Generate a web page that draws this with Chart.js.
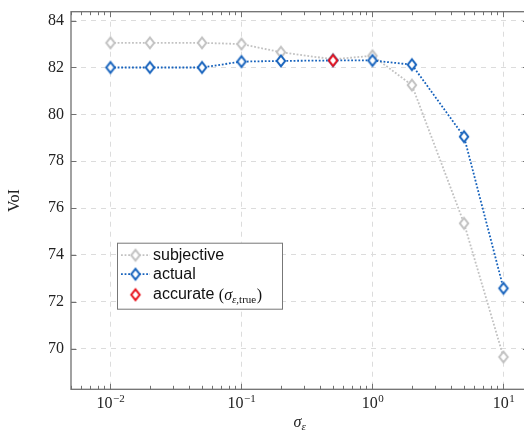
<!DOCTYPE html>
<html>
<head>
<meta charset="utf-8">
<script src="https://cdn.jsdelivr.net/npm/chart.js@4.4.1/dist/chart.umd.min.js"></script>
<style>
  html, body { margin: 0; padding: 0; background: #fff; overflow: hidden; width: 524px; height: 434px; }
  #wrap { position: relative; width: 540px; height: 434px; }
</style>
</head>
<body>
<div id="wrap"><canvas id="chart" width="540" height="434"></canvas></div>
<script>
// sigma_eps values (x axis, log scale)
const sigma = [0.01, 0.02, 0.05, 0.1, 0.2, 0.5, 1, 2, 5, 10];
const subjective = [83.05, 83.05, 83.05, 83.0, 82.65, 82.35, 82.5, 81.25, 75.35, 69.65];
const actual = [82.0, 82.0, 82.0, 82.25, 82.28, 82.3, 82.3, 82.12, 79.05, 72.58];
const accurateSigma = [0.5];
const accurate = [82.3];

const xTicks = [0.01, 0.1, 1, 10];
const xTickExp = ['\u22122', '\u22121', '0', '1'];
const yTicks = [70, 72, 74, 76, 78, 80, 82, 84];

const GRAY = '#c2c2c2';
const BLUE = '#1763bd';
const RED = '#e8101a';
const SERIF = '"Liberation Serif", "DejaVu Serif", serif';
const SANS = '"Liberation Sans", Arial, sans-serif';

function diamond(color) {
  const c = document.createElement('canvas');
  c.width = 14; c.height = 16;
  const g = c.getContext('2d');
  g.beginPath();
  g.moveTo(7, 2.7); g.lineTo(11.2, 8); g.lineTo(7, 13.3); g.lineTo(2.8, 8);
  g.closePath();
  g.fillStyle = '#fff';
  g.fill();
  g.lineWidth = 2;
  g.strokeStyle = color;
  g.stroke();
  return c;
}
const dGray = diamond(GRAY), dBlue = diamond(BLUE), dRed = diamond(RED);

function pts(xs, ys) {
  return xs.map((x, i) => ({ x: x, y: ys[i] }));
}

// frame, minor ticks, x labels, titles and legend
const deco = {
  id: 'deco',
  afterDraw(chart) {
    const { ctx, chartArea: a, scales: { x, y } } = chart;
    ctx.save();
    const line = (x1, y1, x2, y2) => { ctx.beginPath(); ctx.moveTo(x1, y1); ctx.lineTo(x2, y2); ctx.stroke(); };

    ctx.strokeStyle = '#707070';
    ctx.lineWidth = 1;
    for (let e = -3; e <= 1; e++) {
      for (let m = 1; m <= 9; m++) {
        const v = m * Math.pow(10, e);
        if (v < x.min || v > x.max) continue;
        const px = Math.round(x.getPixelForValue(v)) + 0.5;
        const len = m === 1 ? 5.5 : 3.5;
        line(px, a.bottom, px, a.bottom - len);
        line(px, a.top, px, a.top + len);
      }
    }
    yTicks.forEach(v => {
      const py = Math.round(y.getPixelForValue(v)) + 0.5;
      line(a.left, py, a.left + 5.5, py);
      line(a.right, py, a.right - 5.5, py);
    });

    ctx.strokeStyle = '#707070';
    ctx.lineWidth = 1.3;
    ctx.strokeRect(a.left, a.top, a.right - a.left, a.bottom - a.top);

    // x tick labels 10^k
    ctx.fillStyle = '#222';
    ctx.textBaseline = 'alphabetic';
    ctx.textAlign = 'left';
    xTicks.forEach((v, i) => {
      const px = x.getPixelForValue(v);
      ctx.font = '16px ' + SERIF;
      const w1 = ctx.measureText('10').width;
      ctx.font = '11px ' + SERIF;
      const w2 = ctx.measureText(xTickExp[i]).width;
      const x0 = px - (w1 + w2) / 2;
      ctx.font = '16px ' + SERIF;
      ctx.fillText('10', x0, a.bottom + 19);
      ctx.font = '11px ' + SERIF;
      ctx.fillText(xTickExp[i], x0 + w1 + 0.5, a.bottom + 12.5);
    });

    // x title sigma_eps
    const cx = (a.left + a.right) / 2;
    ctx.font = 'italic 16px ' + SERIF;
    const ws = ctx.measureText('\u03c3').width;
    ctx.font = 'italic 11px ' + SERIF;
    const we = ctx.measureText('\u03b5').width;
    let tx = cx - (ws + we) / 2;
    ctx.font = 'italic 16px ' + SERIF;
    ctx.fillText('\u03c3', tx, 427);
    ctx.font = 'italic 11px ' + SERIF;
    ctx.fillText('\u03b5', tx + ws, 430);

    // y title
    ctx.save();
    ctx.translate(19, (a.top + a.bottom) / 2);
    ctx.rotate(-Math.PI / 2);
    ctx.textAlign = 'center';
    ctx.font = '16px ' + SERIF;
    ctx.fillText('VoI', 0, 0);
    ctx.restore();

    // legend box
    const lx = a.left + 46, ly = a.top + 231, lw = 165, lh = 66;
    ctx.fillStyle = '#fff';
    ctx.fillRect(lx, ly, lw, lh);
    ctx.strokeStyle = '#777';
    ctx.lineWidth = 1;
    ctx.strokeRect(lx + 0.5, ly + 0.5, lw, lh);

    const rows = [
      { y: ly + 12.5, color: GRAY, img: dGray, dotted: true, label: 'subjective' },
      { y: ly + 31.5, color: BLUE, img: dBlue, dotted: true, label: 'actual' },
      { y: ly + 52, color: RED, img: dRed, dotted: false, label: 'accurate' }
    ];
    rows.forEach(r => {
      if (r.dotted) {
        ctx.strokeStyle = r.color;
        ctx.lineWidth = 1.8;
        ctx.setLineDash([1.8, 1.8]);
        line(lx + 4, r.y, lx + 33, r.y);
        ctx.setLineDash([]);
      }
      ctx.drawImage(r.img, lx + 18.5 - 7, r.y - 8);
      ctx.fillStyle = '#111';
      ctx.font = '16px ' + SANS;
      ctx.textBaseline = 'middle';
      ctx.fillText(r.label, lx + 36, r.y);
      if (r.label === 'accurate') {
        let px = lx + 36 + ctx.measureText('accurate ').width;
        ctx.textBaseline = 'alphabetic';
        const base = r.y + 5.5;
        ctx.font = '16px ' + SERIF;
        ctx.fillText('(', px, base); px += ctx.measureText('(').width;
        ctx.font = 'italic 16px ' + SERIF;
        ctx.fillText('\u03c3', px, base); px += ctx.measureText('\u03c3').width;
        ctx.font = 'italic 11px ' + SERIF;
        ctx.fillText('\u03b5', px, base + 3); px += ctx.measureText('\u03b5').width;
        ctx.font = '11px ' + SERIF;
        ctx.fillText(',true', px, base + 3); px += ctx.measureText(',true').width + 0.5;
        ctx.font = '16px ' + SERIF;
        ctx.fillText(')', px, base);
      }
    });
    ctx.restore();
  }
};

new Chart(document.getElementById('chart'), {
  type: 'line',
  data: {
    datasets: [
      {
        label: 'subjective',
        data: pts(sigma, subjective),
        borderColor: GRAY,
        borderWidth: 1.8,
        borderDash: [1.8, 1.8],
        pointStyle: dGray,
        order: 3
      },
      {
        label: 'actual',
        data: pts(sigma, actual),
        borderColor: BLUE,
        borderWidth: 1.8,
        borderDash: [1.8, 1.8],
        pointStyle: dBlue,
        order: 2
      },
      {
        label: 'accurate',
        data: pts(accurateSigma, accurate),
        borderColor: RED,
        showLine: false,
        pointStyle: dRed,
        order: 1
      }
    ]
  },
  options: {
    responsive: false,
    animation: false,
    devicePixelRatio: 1,
    layout: { padding: { left: 0, top: 11.7, right: 11.6, bottom: 0 } },
    plugins: { legend: { display: false }, tooltip: { enabled: false } },
    scales: {
      x: {
        type: 'logarithmic',
        min: 0.005,
        max: 15.5,
        afterBuildTicks: s => { s.ticks = xTicks.map(v => ({ value: v })); },
        afterFit: s => { s.height = 44.7; s.paddingLeft = 0; s.paddingRight = 0; },
        ticks: { display: false },
        border: { display: false, dash: [5, 5] },
        grid: { color: '#dcdcdc', lineWidth: 1, drawTicks: false }
      },
      y: {
        min: 68.27,
        max: 84.38,
        afterBuildTicks: s => { s.ticks = yTicks.map(v => ({ value: v })); },
        afterFit: s => { s.width = 71; s.paddingTop = 0; s.paddingBottom = 0; },
        ticks: { padding: 7, color: '#222', font: { family: SERIF, size: 16 } },
        border: { display: false, dash: [5, 5] },
        grid: { color: '#dcdcdc', lineWidth: 1, drawTicks: false }
      }
    }
  },
  plugins: [deco]
});
</script>
</body>
</html>
